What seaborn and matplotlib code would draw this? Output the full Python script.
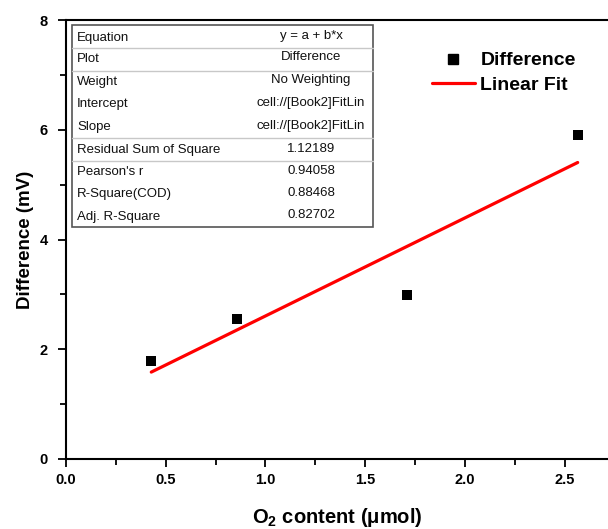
import numpy as np
import pandas as pd
import matplotlib
matplotlib.use("Agg")
import matplotlib.pyplot as plt
import seaborn as sns
from matplotlib.lines import Line2D

# ---- data ----
o2_content = [0.4275, 0.855, 1.71, 2.565]
difference = [1.78, 2.55, 2.98, 5.90]
x_ticks = [0.0, 0.5, 1.0, 1.5, 2.0, 2.5]
y_ticks = [0, 2, 4, 6, 8]
table_labels = ["Equation", "Plot", "Weight", "Intercept", "Slope",
                "Residual Sum of Square", "Pearson's r", "R-Square(COD)", "Adj. R-Square"]
table_values = ["y = a + b*x", "Difference", "No Weighting", "cell://[Book2]FitLin",
                "cell://[Book2]FitLin", "1.12189", "0.94058", "0.88468", "0.82702"]

sns.set_theme(style="white")
plt.rcParams['font.family'] = ['Liberation Sans', 'DejaVu Sans']
plt.rcParams['mathtext.fontset'] = 'custom'
plt.rcParams['mathtext.rm'] = 'Liberation Sans:bold'
plt.rcParams['mathtext.bf'] = 'Liberation Sans:bold'
plt.rcParams['text.color'] = 'black'
plt.rcParams['axes.labelcolor'] = 'black'

df = pd.DataFrame({"x": o2_content, "y": difference})

W, H = 608, 529
fig = plt.figure(figsize=(W / 100, H / 100), dpi=100)
L, R, T, B = 66, 608, 20, 459
ax = fig.add_axes([L / W, 1 - B / H, (R - L) / W, (B - T) / H])

sns.regplot(data=df, x="x", y="y", scatter=False, ci=None, truncate=True,
            color="#ff0000", line_kws={"lw": 2.3}, ax=ax)
sns.scatterplot(data=df, x="x", y="y", marker="s", s=55, color="black",
                edgecolor="black", linewidth=0, ax=ax, zorder=5)

ax.set_xlim(0, 2.717)
ax.set_ylim(0, 8)
ax.set_xticks(x_ticks)
ax.set_xticklabels([f"{v:.1f}" for v in x_ticks])
ax.set_yticks(y_ticks)
ax.set_yticklabels([str(v) for v in y_ticks])
ax.set_xticks(np.array(x_ticks[:-1]) + 0.25, minor=True)
ax.set_yticks(np.array(y_ticks[:-1]) + 1, minor=True)
ax.tick_params(axis="both", which="major", direction="out", length=6, width=1.3,
               colors="black", labelsize=10.5, bottom=True, left=True)
ax.tick_params(axis="x", which="major", pad=4)
ax.tick_params(axis="y", which="major", pad=7)
ax.tick_params(axis="both", which="minor", direction="out", length=4, width=1.3,
               colors="black", bottom=True, left=True)
for lab in ax.get_xticklabels() + ax.get_yticklabels():
    lab.set_fontweight("bold")

for sp in ["left", "bottom", "top"]:
    ax.spines[sp].set_visible(True)
    ax.spines[sp].set_color("black")
    ax.spines[sp].set_linewidth(1.5)
ax.spines["right"].set_visible(False)

ax.set_xlabel(r"O$_\mathregular{2}$ content (μmol)", fontsize=14.5, fontweight="bold", labelpad=14)
ax.set_ylabel("Difference (mV)", fontsize=13.5, fontweight="bold", labelpad=4)

# legend
handles = [Line2D([], [], marker="s", ls="none", color="black", markersize=7),
           Line2D([], [], color="#ff0000", lw=2.3)]
leg = ax.legend(handles, ["Difference", "Linear Fit"], loc="upper left",
                bbox_to_anchor=((424 - L) / (R - L), (B - 44) / (B - T)),
                frameon=False, prop={"weight": "bold", "size": 14},
                handlelength=2.2, handletextpad=0.3, labelspacing=0.35, borderaxespad=0)
for t in leg.get_texts():
    t.set_color("black")

# fit-results table
def ax_xy(px, py):
    return (px - L) / (R - L), (B - py) / (B - T)

tl, tr, tt, tb = 71.5, 373, 25, 227
x0, y0 = ax_xy(tl, tt)
x1, y1 = ax_xy(tr, tb)
ax.add_patch(plt.Rectangle((x0, y1), x1 - x0, y0 - y1, transform=ax.transAxes,
                           facecolor="white", edgecolor="#555555", lw=1.2, zorder=6))
row_y = [37.5, 59, 82, 104.5, 127, 150, 172, 194, 217]
for lab, val, py in zip(table_labels, table_values, row_y):
    ax.text(*ax_xy(77, py), lab, transform=ax.transAxes, fontsize=9.5, color="#111111",
            ha="left", va="center", zorder=7)
    ax.text(*ax_xy(311, py - 1.5), val, transform=ax.transAxes, fontsize=9.5, color="#111111",
            ha="center", va="center", zorder=7)
for py in [48.3, 71, 138.3, 160.7]:
    ya = ax_xy(0, py)[1]
    ax.plot([x0, x1], [ya, ya], transform=ax.transAxes, color="#c8c8c8", lw=1.0, zorder=7)

fig.savefig("out.png", dpi=100, facecolor="white")
